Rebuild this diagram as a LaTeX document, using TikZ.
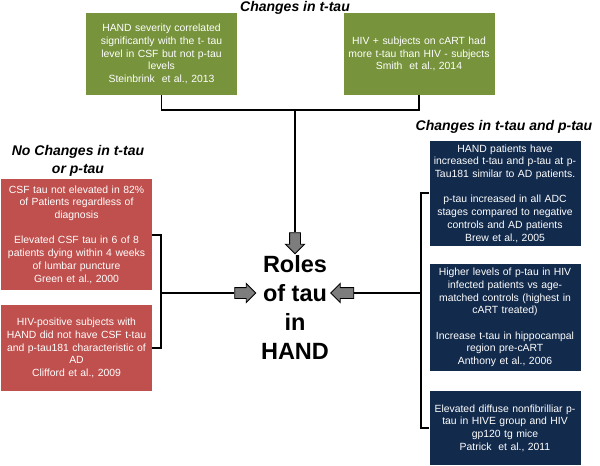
\documentclass[tikz,border=0pt]{standalone}
\usepackage{fontspec}
\setmainfont{Liberation Sans}
\usetikzlibrary{shapes.arrows}
\definecolor{olivebox}{RGB}{119,147,60}
\definecolor{redbox}{RGB}{192,80,77}
\definecolor{navybox}{RGB}{18,42,76}
\definecolor{arrowgray}{RGB}{125,125,125}
\tikzset{
    finding/.style={text width=151pt,minimum height=#1,inner sep=0pt,align=center,
        text=white,font=\fontsize{10.4}{12.7}\selectfont},
    tbox/.style={finding=#1,fill=olivebox},
    nbox/.style={finding=#1,fill=redbox},
    pbox/.style={finding=#1,fill=navybox},
    heading/.style={font=\fontsize{14}{17.5}\selectfont\bfseries\itshape,align=center,inner sep=0pt},
    roles/.style={font=\fontsize{23.5}{29}\selectfont\bfseries,align=center,inner sep=0pt},
    link/.style={line width=1.3pt},
    blockarrow/.style={single arrow,draw=black,fill=arrowgray,line width=0.9pt,
        inner sep=5pt,single arrow head extend=4pt,minimum height=21pt}
}

\begin{document}
\begin{tikzpicture}[x=1pt,y=-1pt]
    \useasboundingbox (0,0) rectangle (600,466);
    % Centre
    \node[roles] (hand) at (295,307) {Roles\\of tau\\in\\HAND};
    % Changes in t-tau
    \node[heading] (ttitle) at (295,8) {Changes in t-tau};
    \node[tbox=82pt] (steinbrink) at (161.5,54) {HAND severity correlated\\significantly with the t- tau\\level in CSF but not p-tau\\levels\\Steinbrink\ \ et al., 2013};
    \node[tbox=82pt] (smith) at (419,54) {HIV + subjects on cART had\\more t-tau than HIV - subjects\\Smith\ \ et al., 2014};
    % No changes
    \node[heading] (ntitle) at (78,161) {No Changes in t-tau\\or p-tau};
    \node[nbox=111pt] (green) at (76.5,234.5) {CSF tau not elevated in 82\%\\of Patients regardless of\\diagnosis\\[12.7pt]Elevated CSF tau in 6 of 8\\patients dying within 4 weeks\\of lumbar puncture\\Green et al., 2000};
    \node[nbox=86pt] (clifford) at (76.5,348) {HIV-positive subjects with\\HAND did not have CSF t-tau\\and p-tau181 characteristic of\\AD\\Clifford et al., 2009};
    % Changes in t-tau and p-tau
    \node[heading] (ptitle) at (504,127) {Changes in t-tau and p-tau};
    \node[pbox=105pt] (brew) at (505,193.5) {HAND patients have\\increased t-tau and p-tau at p-\\Tau181 similar to AD patients.\\[12.7pt]p-tau increased in all ADC\\stages compared to negative\\controls and AD patients\\Brew et al., 2005};
    \node[pbox=107pt] (anthony) at (505,317.5) {Higher levels of p-tau in HIV\\infected patients vs age-\\matched controls (highest in\\cART treated)\\[12.7pt]Increase t-tau in hippocampal\\region pre-cART\\Anthony et al., 2006};
    \node[pbox=74pt] (patrick) at (505,428) {Elevated diffuse nonfibrilliar p-\\tau in HIVE group and HIV\\gp120 tg mice\\Patrick\ \ et al., 2011};
    % Arrows
    \node[blockarrow,shape border rotate=270] (downarrow) at (295,240.5) {};
    \node[blockarrow] (rightarrow) at (242.5,293) {};
    \node[blockarrow,shape border rotate=180,minimum height=23pt] (leftarrow) at (345,293) {};
    % Brackets
    \coordinate (topmid) at (295,110);
    \draw[link] (steinbrink.south) |- (topmid) -| (smith.south);
    \draw[link] (topmid) -- (downarrow.tail);
    \coordinate (lefttop) at (161,235);
    \coordinate (leftbot) at (161,348);
    \coordinate (leftmid) at (161,293);
    \draw[link] (green.east |- lefttop) -- (lefttop) -- (leftbot) -- (clifford.east |- leftbot);
    \draw[link] (leftmid) -- (rightarrow.tail);
    \coordinate (righttop) at (421,193);
    \coordinate (rightbot) at (421,428);
    \coordinate (rightmid) at (421,293);
    \draw[link] (brew.west |- righttop) -- (righttop) -- (rightbot) -- (patrick.west |- rightbot);
    \draw[link] (rightmid) -- (leftarrow.tail);
\end{tikzpicture}
\end{document}
